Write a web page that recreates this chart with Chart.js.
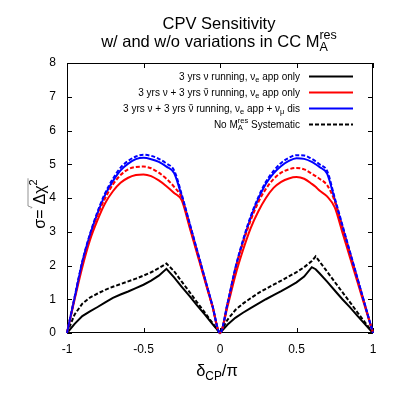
<!DOCTYPE html>
<html>
<head>
<meta charset="utf-8">
<script src="https://cdn.jsdelivr.net/npm/chart.js@4.4.1/dist/chart.umd.min.js"></script>
<style>
  html, body { margin: 0; padding: 0; background: #fff; }
  #wrap { width: 399px; height: 400px; }
</style>
</head>
<body>
<div id="wrap"><canvas id="cpvChart" width="399" height="400"></canvas></div>
<script>
"use strict";

const FONT = '"Liberation Sans", Arial, Helvetica, sans-serif';

// delta_CP / pi
const deltaCP = [
    -1, -0.95, -0.9, -0.85, -0.8, -0.75, -0.7, -0.65, -0.6, -0.55, -0.5,
    -0.45, -0.4, -0.35, -0.3, -0.25, -0.2, -0.15, -0.1, -0.05, 0,
    0.05, 0.1, 0.15, 0.2, 0.25, 0.3, 0.35, 0.4, 0.45, 0.5,
    0.55, 0.6, 0.625, 0.65, 0.7, 0.75, 0.8, 0.85, 0.9, 0.95, 1
];

// 3 yrs nu running, nu_e app only (black solid)
const sigmaNuOnly = [
    0, 0.27, 0.5, 0.64, 0.77, 0.91, 1.04, 1.14, 1.23, 1.33, 1.43,
    1.55, 1.7, 1.9, 1.65, 1.37, 1.1, 0.82, 0.55, 0.27, 0,
    0.25, 0.45, 0.6, 0.74, 0.87, 1.0, 1.12, 1.24, 1.37, 1.5,
    1.67, 1.95, 1.89, 1.77, 1.52, 1.26, 1.0, 0.76, 0.5, 0.25, 0
];
// 3 yrs nu + 3 yrs nubar, nu_e app only (red solid)
const sigmaNuNubar = [
    0, 1.0, 1.95, 2.75, 3.35, 3.85, 4.2, 4.45, 4.6, 4.68, 4.7,
    4.65, 4.52, 4.35, 4.15, 3.93, 3.15, 2.36, 1.57, 0.79, 0,
    0.8, 1.7, 2.45, 3.1, 3.6, 4.0, 4.3, 4.48, 4.58, 4.62,
    4.57, 4.42, 4.33, 4.22, 4.05, 3.72, 2.98, 2.23, 1.49, 0.74, 0
];
// 3 yrs nu + 3 yrs nubar, nu_e app + nu_mu dis (blue solid)
const sigmaNuNubarDis = [
    0, 1.05, 2.1, 2.9, 3.55, 4.1, 4.5, 4.82, 5.02, 5.15, 5.19,
    5.15, 5.07, 4.93, 4.74, 4.05, 3.25, 2.44, 1.63, 0.82, 0,
    0.88, 1.9, 2.7, 3.4, 3.97, 4.42, 4.73, 4.95, 5.1, 5.18,
    5.16, 5.07, 5.0, 4.92, 4.72, 3.95, 3.15, 2.37, 1.58, 0.79, 0
];
// same three configurations without the M_A^res systematic (dashed)
const sigmaNuOnlyNoSys = [
    0, 0.55, 0.87, 1.05, 1.17, 1.28, 1.37, 1.45, 1.53, 1.61, 1.7,
    1.8, 1.92, 2.06, 1.83, 1.52, 1.22, 0.91, 0.61, 0.3, 0,
    0.4, 0.68, 0.87, 1.03, 1.18, 1.31, 1.43, 1.55, 1.68, 1.8,
    1.95, 2.13, 2.27, 2.12, 1.82, 1.51, 1.21, 0.91, 0.6, 0.3, 0
];
const sigmaNuNubarNoSys = [
    0, 1.05, 2.07, 2.87, 3.5, 4.0, 4.4, 4.68, 4.85, 4.92, 4.93,
    4.88, 4.75, 4.57, 4.33, 4.0, 3.2, 2.4, 1.6, 0.8, 0,
    0.88, 1.87, 2.67, 3.33, 3.87, 4.27, 4.56, 4.75, 4.85, 4.89,
    4.85, 4.72, 4.65, 4.57, 4.38, 3.9, 3.12, 2.34, 1.56, 0.78, 0
];
const sigmaNuNubarDisNoSys = [
    0, 1.07, 2.12, 2.93, 3.6, 4.15, 4.57, 4.9, 5.1, 5.23, 5.28,
    5.25, 5.16, 5.02, 4.82, 4.1, 3.28, 2.46, 1.64, 0.82, 0,
    0.9, 1.92, 2.75, 3.45, 4.02, 4.48, 4.8, 5.04, 5.19, 5.27,
    5.26, 5.16, 5.09, 5.0, 4.8, 4.0, 3.2, 2.4, 1.6, 0.8, 0
];

const xTicks = [-1, -0.5, 0, 0.5, 1];
const yTicks = [0, 1, 2, 3, 4, 5, 6, 7, 8];

const toPoints = arr => arr.map((v, i) => ({ x: deltaCP[i], y: v }));

function series(data, color, dashed, order, smooth) {
    return {
        data: toPoints(data),
        borderColor: color,
        borderWidth: 2,
        borderDash: dashed ? [4, 2] : [],
        pointRadius: 0,
        fill: false,
        tension: 0,
        cubicInterpolationMode: smooth ? 'monotone' : 'default',
        clip: 4,
        order: order
    };
}

// ---- rich text helper (sub/superscripts, overbars) ----
function segWidth(ctx, s, size) {
    if (s.stack) {
        ctx.font = (size * 0.76) + 'px ' + FONT;
        return Math.max(ctx.measureText(s.stack[0]).width, ctx.measureText(s.stack[1]).width);
    }
    ctx.font = (size * (s.k || 1)) + 'px ' + FONT;
    return ctx.measureText(s.t).width;
}
function drawRich(ctx, segs, x, y, size, align) {
    let w = 0;
    segs.forEach(s => { w += segWidth(ctx, s, size); });
    let cx = align === 'right' ? x - w : (align === 'center' ? x - w / 2 : x);
    ctx.textAlign = 'left';
    ctx.textBaseline = 'alphabetic';
    segs.forEach(s => {
        const sw = segWidth(ctx, s, size);
        if (s.stack) {
            ctx.font = (size * 0.76) + 'px ' + FONT;
            ctx.fillText(s.stack[0], cx, y - size * 0.48);
            ctx.fillText(s.stack[1], cx, y + size * 0.28);
        } else {
            ctx.font = (size * (s.k || 1)) + 'px ' + FONT;
            ctx.fillText(s.t, cx, y + (s.dy || 0) * size);
            if (s.bar) {
                ctx.save();
                ctx.lineWidth = 0.8;
                ctx.beginPath();
                ctx.moveTo(cx + sw * 0.2, y - size * 0.68);
                ctx.lineTo(cx + sw * 0.85, y - size * 0.68);
                ctx.stroke();
                ctx.restore();
            }
        }
        cx += sw;
    });
    return w;
}

const nu = { t: 'ν' };
const nuBar = { t: 'ν', bar: true };
const subE = { t: 'e', k: 0.75, dy: 0.25 };
const subMu = { t: 'μ', k: 0.75, dy: 0.25 };

const legendRows = [
    { color: '#000000', dash: [], segs: [{ t: '3 yrs ' }, nu, { t: ' running, ' }, nu, subE, { t: ' app only' }] },
    { color: '#ff0000', dash: [], segs: [{ t: '3 yrs ' }, nu, { t: ' + 3 yrs ' }, nuBar, { t: ' running, ' }, nu, subE, { t: ' app only' }] },
    { color: '#0000ff', dash: [], segs: [{ t: '3 yrs ' }, nu, { t: ' + 3 yrs ' }, nuBar, { t: ' running, ' }, nu, subE, { t: ' app + ' }, nu, subMu, { t: ' dis' }] },
    { color: '#000000', dash: [4, 2], segs: [{ t: 'No M' }, { stack: ['res', 'A'] }, { t: ' Systematic' }] }
];

const decorations = {
    id: 'decorations',
    beforeDatasetsDraw(chart) {
        const { ctx, chartArea: a, scales } = chart;
        ctx.save();
        ctx.strokeStyle = '#000';
        ctx.lineWidth = 1;
        ctx.strokeRect(a.left + 0.5, a.top + 0.5, a.right - a.left - 1, a.bottom - a.top - 1);
        ctx.beginPath();
        xTicks.forEach(v => {
            const px = Math.round(scales.x.getPixelForValue(v)) + 0.5;
            ctx.moveTo(px, a.bottom); ctx.lineTo(px, a.bottom - 5);
            ctx.moveTo(px, a.top); ctx.lineTo(px, a.top + 5);
        });
        yTicks.forEach(v => {
            const py = Math.round(scales.y.getPixelForValue(v)) + 0.5;
            ctx.moveTo(a.left, py); ctx.lineTo(a.left + 5, py);
            ctx.moveTo(a.right, py); ctx.lineTo(a.right - 5, py);
        });
        ctx.stroke();
        ctx.restore();
    },
    afterDraw(chart) {
        const { ctx } = chart;
        ctx.save();
        ctx.fillStyle = '#000';
        ctx.strokeStyle = '#000';

        // title
        drawRich(ctx, [{ t: 'CPV Sensitivity' }], 219, 29, 16.5, 'center');
        drawRich(ctx, [{ t: 'w/ and w/o variations in CC M' }, { stack: ['res', 'A'] }], 219, 46.5, 16.5, 'center');

        // legend
        legendRows.forEach((row, i) => {
            const y = 76 + i * 16;
            ctx.fillStyle = '#000';
            drawRich(ctx, row.segs, 300, y + 3.5, 10, 'right');
            ctx.save();
            ctx.strokeStyle = row.color;
            ctx.lineWidth = 2;
            ctx.setLineDash(row.dash);
            ctx.beginPath();
            ctx.moveTo(309, y + 0.5);
            ctx.lineTo(353, y + 0.5);
            ctx.stroke();
            ctx.restore();
        });

        // x axis label
        drawRich(ctx, [{ t: 'δ' }, { t: 'CP', k: 0.72, dy: 0.25 }, { t: '/π' }], 217, 376, 16.5, 'center');

        // y axis label
        ctx.translate(45, 204);
        ctx.rotate(-Math.PI / 2);
        ctx.font = '16px ' + FONT;
        const w1 = ctx.measureText('σ=').width;
        const w2 = ctx.measureText('Δχ').width;
        ctx.font = '11px ' + FONT;
        const w3 = ctx.measureText('2').width;
        const gap = 5;
        const total = w1 + gap + w2 + w3;
        let x0 = -total / 2;
        ctx.textAlign = 'left';
        ctx.textBaseline = 'alphabetic';
        ctx.font = '16px ' + FONT;
        ctx.fillText('σ=', x0, 0);
        x0 += w1;
        // small root sign + overline
        ctx.lineWidth = 0.7;
        ctx.strokeStyle = '#666';
        ctx.beginPath();
        ctx.moveTo(x0 + 1, -14);
        ctx.lineTo(x0 + 2, -13);
        ctx.lineTo(x0 + 3.5, -17);
        ctx.lineTo(x0 + gap + w2 + w3 + 1, -17);
        ctx.stroke();
        x0 += gap;
        ctx.fillText('Δχ', x0, 0);
        x0 += w2;
        ctx.font = '11px ' + FONT;
        ctx.fillText('2', x0, -8);
        ctx.restore();
    }
};

const ctx = document.getElementById('cpvChart').getContext('2d');

const cpvChart = new Chart(ctx, {
    type: 'line',
    data: {
        datasets: [
            series(sigmaNuOnly, '#000000', false, 6, false),
            series(sigmaNuNubar, '#ff0000', false, 5, true),
            series(sigmaNuNubarDis, '#0000ff', false, 4, true),
            series(sigmaNuOnlyNoSys, '#000000', true, 3, false),
            series(sigmaNuNubarNoSys, '#ff0000', true, 2, true),
            series(sigmaNuNubarDisNoSys, '#0000ff', true, 1, true)
        ]
    },
    options: {
        responsive: false,
        animation: false,
        devicePixelRatio: 1,
        layout: { padding: { left: 0, right: 26, top: 63, bottom: 0 } },
        plugins: {
            legend: { display: false },
            title: { display: false },
            tooltip: { enabled: false }
        },
        scales: {
            x: {
                type: 'linear',
                min: -1,
                max: 1,
                afterBuildTicks: scale => { scale.ticks = xTicks.map(v => ({ value: v })); },
                afterFit: scale => { scale.height = 67; },
                ticks: {
                    color: '#000',
                    font: { family: FONT, size: 12 },
                    padding: 9,
                    maxRotation: 0,
                    callback: v => String(v)
                },
                grid: { display: false, drawTicks: false },
                border: { display: false }
            },
            y: {
                type: 'linear',
                min: 0,
                max: 8,
                afterBuildTicks: scale => { scale.ticks = yTicks.map(v => ({ value: v })); },
                afterFit: scale => { scale.width = 67; },
                ticks: {
                    color: '#000',
                    font: { family: FONT, size: 12 },
                    padding: 11,
                    callback: v => String(v)
                },
                grid: { display: false, drawTicks: false },
                border: { display: false }
            }
        }
    },
    plugins: [decorations]
});
</script>
</body>
</html>
